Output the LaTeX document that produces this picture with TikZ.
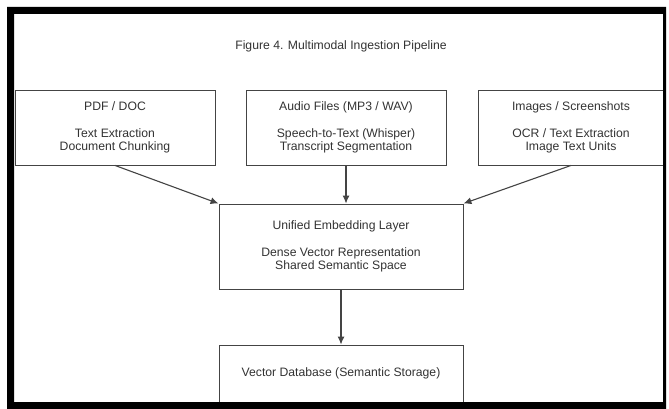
\documentclass[tikz,border=0pt]{standalone}
\usepackage{fontspec}
\setmainfont{Liberation Sans}
\usetikzlibrary{arrows.meta}
\definecolor{inkgray}{HTML}{333333}
\definecolor{linegray}{HTML}{444444}
\tikzset{
  stagebox/.style={draw=linegray, line width=0.9pt, fill=white, align=center,
    inner sep=0pt, text=inkgray,
    font=\fontsize{12.2}{13.5}\selectfont},
  flow/.style={draw=linegray, line width=1.1pt,
    -{Latex[length=8pt,width=7pt]}},
}
\begin{document}
\begin{tikzpicture}[x=1pt,y=-1pt]
  \useasboundingbox (0,0) rectangle (669,409);
  \fill[white] (0,0) rectangle (669,409);

  % title
  \node[text=inkgray, font=\fontsize{12.2}{13.5}\selectfont] (title) at (341,46)
    {Figure 4. Multimodal Ingestion Pipeline};

  % source stages
  \node[stagebox, minimum width=200pt, minimum height=75pt] (pdf) at (115,127.5)
    {PDF / DOC\\[13.5pt]Text Extraction\\Document Chunking};
  \node[stagebox, minimum width=200pt, minimum height=75pt] (audio) at (346,127.5)
    {Audio Files (MP3 / WAV)\\[13.5pt]Speech-to-Text (Whisper)\\Transcript Segmentation};
  \node[stagebox, minimum width=186pt, minimum height=75pt] (img) at (571,127.5)
    {Images / Screenshots\\[13.5pt]OCR / Text Extraction\\Image Text Units};

  % shared embedding and storage
  \node[stagebox, minimum width=244pt, minimum height=85pt] (emb) at (341,246.5)
    {Unified Embedding Layer\\[13.5pt]Dense Vector Representation\\Shared Semantic Space};
  \node[stagebox, minimum width=244pt, minimum height=57pt] (db) at (341,373.5)
    {Vector Database (Semantic Storage)};

  % connectors
  \draw[flow] (pdf.south) -- (emb.north west);
  \draw[flow] (audio.south) -- (audio.south |- emb.north);
  \draw[flow] (img.south) -- (emb.north east);
  \draw[flow] (emb.south) -- (db.north);

  % heavy outer frame
  \fill[black, even odd rule] (7,7) rectangle (666,409) (14,14) rectangle (663,402);
\end{tikzpicture}
\end{document}
